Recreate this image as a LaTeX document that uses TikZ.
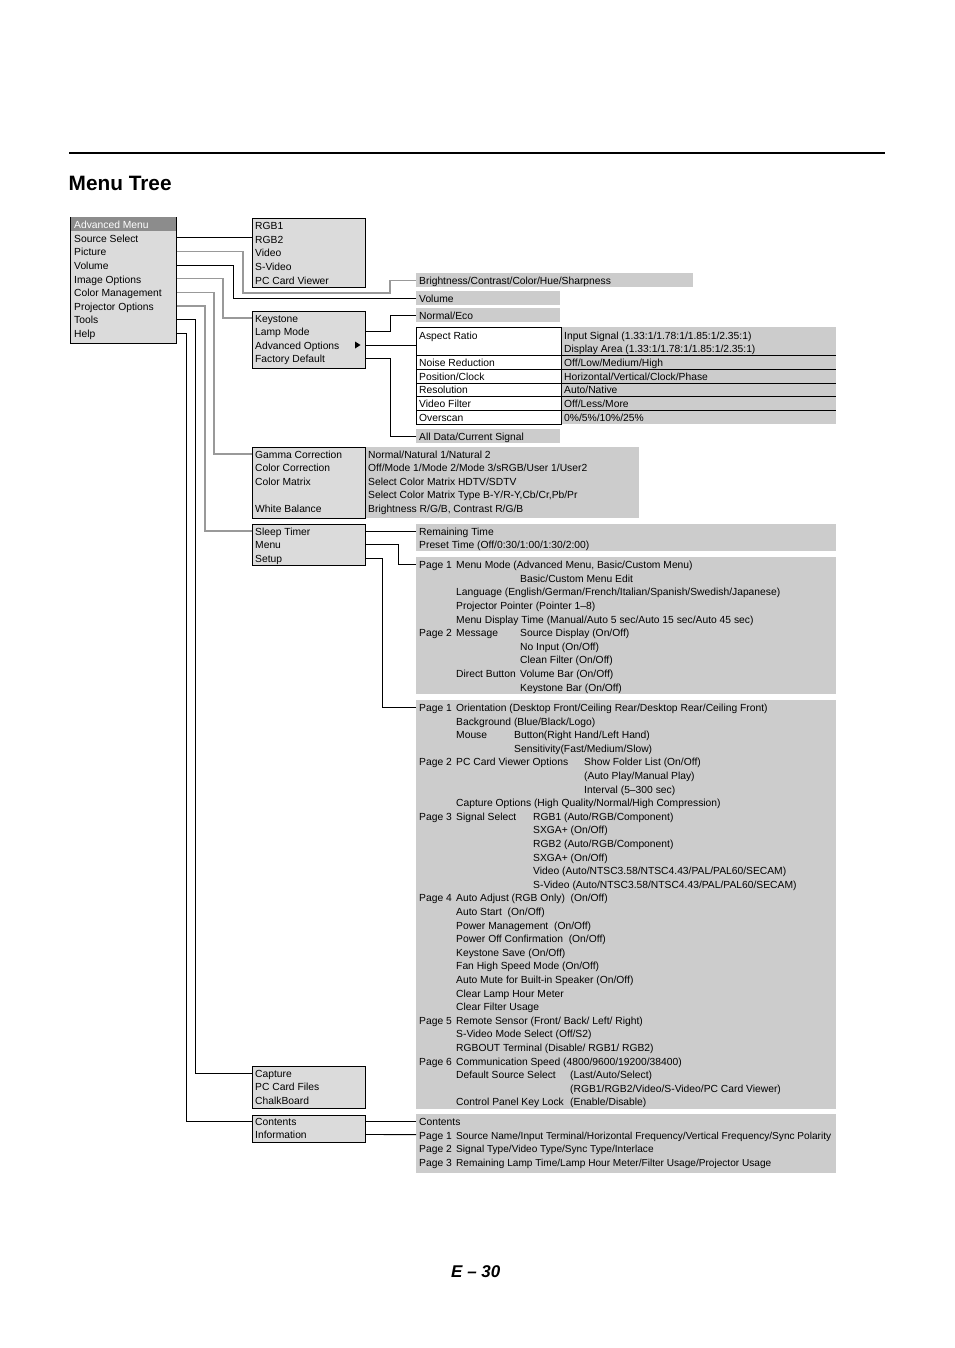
\documentclass[tikz,border=0pt]{standalone}
\usepackage{fontspec}
\setmainfont{Liberation Sans}
\usepackage{tikz}
\usetikzlibrary{positioning}

\definecolor{boxgray}{gray}{0.86}
\definecolor{panelgray}{gray}{0.8}
\definecolor{headgray}{gray}{0.55}
\definecolor{wiregray}{gray}{0.6}

\tikzset{
  menubox/.style={draw, fill=boxgray, line width=0.9pt, anchor=north west, inner sep=0pt},
  panel/.style={fill=panelgray, anchor=north west, inner sep=0pt},
  lbl/.style={anchor=west, inner sep=0pt, text height=8.8pt, text depth=0pt,
    font=\fontsize{10.3}{12}\selectfont},
  wire/.style={line width=0.9pt},
  greywire/.style={line width=1.3pt, draw=wiregray},
}

\begin{document}
\begin{tikzpicture}[x=1pt, y=-1pt]
\useasboundingbox (0,0) rectangle (954,1348);

% heading
\draw[line width=1.2pt] (69,153) -- (885,153);
\node[anchor=base west, inner sep=0pt, font=\fontsize{20.8}{24}\selectfont\bfseries] (title) at (68.5,191) {Menu Tree};

% grey panels
\node[panel, minimum width=277pt, minimum height=14pt] (bripanel) at (416,273) {};
\node[panel, minimum width=144pt, minimum height=14pt] (volpanel) at (416,291) {};
\node[panel, minimum width=144pt, minimum height=14pt] (ecopanel) at (416,308) {};
\node[panel, minimum width=275pt, minimum height=97pt] (optpanel) at (561,327) {};
\node[draw, fill=white, line width=0.9pt, anchor=north west, inner sep=0pt,
  minimum width=145pt, minimum height=97pt] (aspect) at (416,327) {};
\node[panel, minimum width=144pt, minimum height=14pt] (alldata) at (416,429) {};
\node[panel, minimum width=275pt, minimum height=71pt] (gammapanel) at (364,447) {};
\node[panel, minimum width=420pt, minimum height=27pt] (sleeppanel) at (416,524) {};
\node[panel, minimum width=420pt, minimum height=137pt] (menupanel) at (416,557) {};
\node[panel, minimum width=420pt, minimum height=409pt] (setuppanel) at (416,700) {};
\node[panel, minimum width=420pt, minimum height=59pt] (infopanel) at (416,1114) {};

% rules of the image options table
\foreach \y in {355,369,383,396.5,410}
  \draw[wire] (aspect.west |- 0,\y) -- (optpanel.east |- 0,\y);

% menu boxes
\node[menubox, minimum width=106pt, minimum height=126pt] (mainmenu) at (70,217) {};
\fill[headgray] (70.5,217.5) rectangle (175.5,231);
\node[menubox, minimum width=113pt, minimum height=69pt] (srcbox) at (251.5,218) {};
\node[menubox, minimum width=113pt, minimum height=57pt] (kbox) at (251.5,311) {};
\node[menubox, minimum width=113pt, minimum height=71pt] (gammabox) at (251.5,447) {};
\node[menubox, minimum width=113pt, minimum height=41pt] (sleepbox) at (251.5,524) {};
\node[menubox, minimum width=113pt, minimum height=42pt] (capbox) at (251.5,1066) {};
\node[menubox, minimum width=113pt, minimum height=27pt] (helpbox) at (251.5,1115) {};

% main menu
\node[lbl, text=white] (advmenu) at (74,224) {Advanced Menu};
\foreach \n/\t [count=\i] in {srcsel/Source Select, picture/Picture, volume/Volume,
    imgopt/Image Options, colmgmt/Color Management, projopt/Projector Options,
    tools/Tools, help/Help}
  \node[lbl] (\n) at (74,224+13.65*\i) {\t};

% second level
\foreach \n/\t [count=\i from 0] in {rgbone/RGB1, rgbtwo/RGB2, video/Video,
    svideo/S-Video, pcviewer/PC Card Viewer}
  \node[lbl] (\n) at (255,225+13.7*\i) {\t};
\foreach \n/\t [count=\i from 0] in {keystone/Keystone, lampmode/Lamp Mode,
    advopt/Advanced Options, factdef/Factory Default}
  \node[lbl] (\n) at (255,318+13.5*\i) {\t};
\fill (355,341.5) -- (360.5,345) -- (355,348.5) -- cycle;
\foreach \n/\i/\t in {gamma/0/Gamma Correction, colcorr/1/Color Correction,
    colmatrix/2/Color Matrix, whitebal/4/White Balance}
  \node[lbl] (\n) at (255,454+13.5*\i) {\t};
\foreach \n/\t [count=\i from 0] in {sleeptimer/Sleep Timer, menu/Menu, setup/Setup}
  \node[lbl] (\n) at (255,531+13.5*\i) {\t};
\foreach \n/\t [count=\i from 0] in {capture/Capture, pcfiles/PC Card Files, chalk/ChalkBoard}
  \node[lbl] (\n) at (255,1073+13.5*\i) {\t};
\foreach \n/\t [count=\i from 0] in {contents/Contents, information/Information}
  \node[lbl] (\n) at (255,1121+13.5*\i) {\t};

% picture, volume, image options
\node[lbl] (bri) at (419,280) {Brightness/Contrast/Color/Hue/Sharpness};
\node[lbl] (vol) at (419,298) {Volume};
\node[lbl] (eco) at (419,315) {Normal/Eco};
\node[lbl] (aspratio) at (419,335) {Aspect Ratio};
\node[lbl] (insignal) at (564,335) {Input Signal (1.33:1/1.78:1/1.85:1/2.35:1)};
\node[lbl] (disparea) at (564,348) {Display Area (1.33:1/1.78:1/1.85:1/2.35:1)};
\node[lbl] (noise) at (419,362) {Noise Reduction};
\node[lbl] (noiseval) at (564,362) {Off/Low/Medium/High};
\node[lbl] (posclock) at (419,376) {Position/Clock};
\node[lbl] (posval) at (564,376) {Horizontal/Vertical/Clock/Phase};
\node[lbl] (resol) at (419,389.5) {Resolution};
\node[lbl] (resval) at (564,389.5) {Auto/Native};
\node[lbl] (vfilter) at (419,403) {Video Filter};
\node[lbl] (vfval) at (564,403) {Off/Less/More};
\node[lbl] (overscan) at (419,417) {Overscan};
\node[lbl] (osval) at (564,417) {0\%/5\%/10\%/25\%};
\node[lbl] (alldat) at (419,436) {All Data/Current Signal};

% color management
\foreach \i/\t in {0/{Normal/Natural 1/Natural 2},
    1/{Off/Mode 1/Mode 2/Mode 3/sRGB/User 1/User2},
    2/{Select Color Matrix HDTV/SDTV},
    3/{Select Color Matrix Type B-Y/R-Y,Cb/Cr,Pb/Pr},
    4/{Brightness R/G/B, Contrast R/G/B}}
  \node[lbl] (gm\i) at (368,454+13.5*\i) {\t};

% projector options
\node[lbl] (remain) at (419,531) {Remaining Time};
\node[lbl] (preset) at (419,544.5) {Preset Time (Off/0:30/1:00/1:30/2:00)};

\foreach \i/\t in {0/Page 1, 5/Page 2}
  \node[lbl] (mpg\i) at (419,564+13.65*\i) {\t};
\foreach \i/\t in {0/{Menu Mode (Advanced Menu, Basic/Custom Menu)},
    2/{Language (English/German/French/Italian/Spanish/Swedish/Japanese)},
    3/{Projector Pointer (Pointer 1–8)},
    4/{Menu Display Time (Manual/Auto 5 sec/Auto 15 sec/Auto 45 sec)},
    5/{Message}, 8/{Direct Button}}
  \node[lbl] (ma\i) at (456,564+13.65*\i) {\t};
\foreach \i/\t in {1/{Basic/Custom Menu Edit}, 5/{Source Display (On/Off)},
    6/{No Input (On/Off)}, 7/{Clean Filter (On/Off)},
    8/{Volume Bar (On/Off)}, 9/{Keystone Bar (On/Off)}}
  \node[lbl] (mb\i) at (520,564+13.65*\i) {\t};

\foreach \i/\t in {0/Page 1, 4/Page 2, 8/Page 3, 14/Page 4, 23/Page 5, 26/Page 6}
  \node[lbl] (spg\i) at (419,707+13.6*\i) {\t};
\foreach \i/\t in {
    0/{Orientation (Desktop Front/Ceiling Rear/Desktop Rear/Ceiling Front)},
    1/{Background (Blue/Black/Logo)},
    2/{Mouse},
    4/{PC Card Viewer Options},
    7/{Capture Options (High Quality/Normal/High Compression)},
    8/{Signal Select},
    14/{Auto Adjust (RGB Only)~~(On/Off)},
    15/{Auto Start~~(On/Off)},
    16/{Power Management~~(On/Off)},
    17/{Power Off Confirmation~~(On/Off)},
    18/{Keystone Save (On/Off)},
    19/{Fan High Speed Mode (On/Off)},
    20/{Auto Mute for Built-in Speaker (On/Off)},
    21/{Clear Lamp Hour Meter},
    22/{Clear Filter Usage},
    23/{Remote Sensor (Front/ Back/ Left/ Right)},
    24/{S-Video Mode Select (Off/S2)},
    25/{RGBOUT Terminal (Disable/ RGB1/ RGB2)},
    26/{Communication Speed (4800/9600/19200/38400)},
    27/{Default Source Select},
    29/{Control Panel Key Lock}}
  \node[lbl] (sa\i) at (456,707+13.6*\i) {\t};
\foreach \i/\t in {2/{Button(Right Hand/Left Hand)}, 3/{Sensitivity(Fast/Medium/Slow)}}
  \node[lbl] (sb\i) at (514,707+13.6*\i) {\t};
\foreach \i/\t in {8/{RGB1 (Auto/RGB/Component)}, 9/{SXGA+ (On/Off)},
    10/{RGB2 (Auto/RGB/Component)}, 11/{SXGA+ (On/Off)},
    12/{Video (Auto/NTSC3.58/NTSC4.43/PAL/PAL60/SECAM)},
    13/{S-Video (Auto/NTSC3.58/NTSC4.43/PAL/PAL60/SECAM)}}
  \node[lbl] (sc\i) at (533,707+13.6*\i) {\t};
\foreach \i/\t in {27/{(Last/Auto/Select)},
    28/{(RGB1/RGB2/Video/S-Video/PC Card Viewer)}, 29/{(Enable/Disable)}}
  \node[lbl] (sd\i) at (570,707+13.6*\i) {\t};
\foreach \i/\t in {4/{Show Folder List (On/Off)}, 5/{(Auto Play/Manual Play)},
    6/{Interval (5–300 sec)}}
  \node[lbl] (se\i) at (584,707+13.6*\i) {\t};

% help
\node[lbl] (hcontents) at (419,1121) {Contents};
\foreach \i/\t in {
    1/{Source Name/Input Terminal/Horizontal Frequency/Vertical Frequency/Sync Polarity},
    2/{Signal Type/Video Type/Sync Type/Interlace},
    3/{Remaining Lamp Time/Lamp Hour Meter/Filter Usage/Projector Usage}}
  {
  \node[lbl] (hpg\i) at (419,1121+13.6*\i) {Page \i};
  \node[lbl, font=\fontsize{10.1}{12}\selectfont] (hinfo\i) at (456,1121+13.6*\i) {\t};
  }

% connectors
\draw[wire] (srcsel -| mainmenu.east) -- (srcsel -| srcbox.west);
\draw[greywire] (picture -| mainmenu.east) -| (243,293) -| (390,0 |- bripanel) -- (bripanel.west);
\draw[wire] (volume -| mainmenu.east) -| (233,0 |- volpanel) -- (volpanel.west);
\draw[greywire] (imgopt -| mainmenu.east) -| (223,0 |- keystone) -- (keystone -| kbox.west);
\draw[greywire] (colmgmt -| mainmenu.east) -| (214,0 |- gamma) -- (gamma -| gammabox.west);
\draw[greywire] (projopt -| mainmenu.east) -| (205,0 |- sleeptimer) -- (sleeptimer -| sleepbox.west);
\draw[wire] (tools -| mainmenu.east) -| (195,0 |- capture) -- (capture -| capbox.west);
\draw[wire] (help -| mainmenu.east) -| (186,0 |- contents) -- (contents -| helpbox.west);

\draw[wire] (lampmode -| kbox.east) -| (390,0 |- ecopanel) -- (ecopanel.west);
\draw[wire] (advopt -| kbox.east) -- (advopt -| aspect.west);
\draw[wire] (factdef -| kbox.east) -| (390,0 |- alldata) -- (alldata.west);

\draw[wire] (sleeptimer -| sleepbox.east) -- (remain -| sleeppanel.west);
\draw[wire] (menu -| sleepbox.east) -| (398,0 |- mpg0) -- (mpg0 -| menupanel.west);
\draw[wire] (setup -| sleepbox.east) -| (382,0 |- spg0) -- (spg0 -| setuppanel.west);

\draw[wire] (contents -| helpbox.east) -- (hcontents -| infopanel.west);
\draw[wire] (information -| helpbox.east) -- (hpg1 -| infopanel.west);

% page number
\node[anchor=base west, inner sep=0pt, font=\fontsize{17}{20}\selectfont\bfseries\itshape] (pageno) at (451,1277) {E – 30};
\end{tikzpicture}
\end{document}
